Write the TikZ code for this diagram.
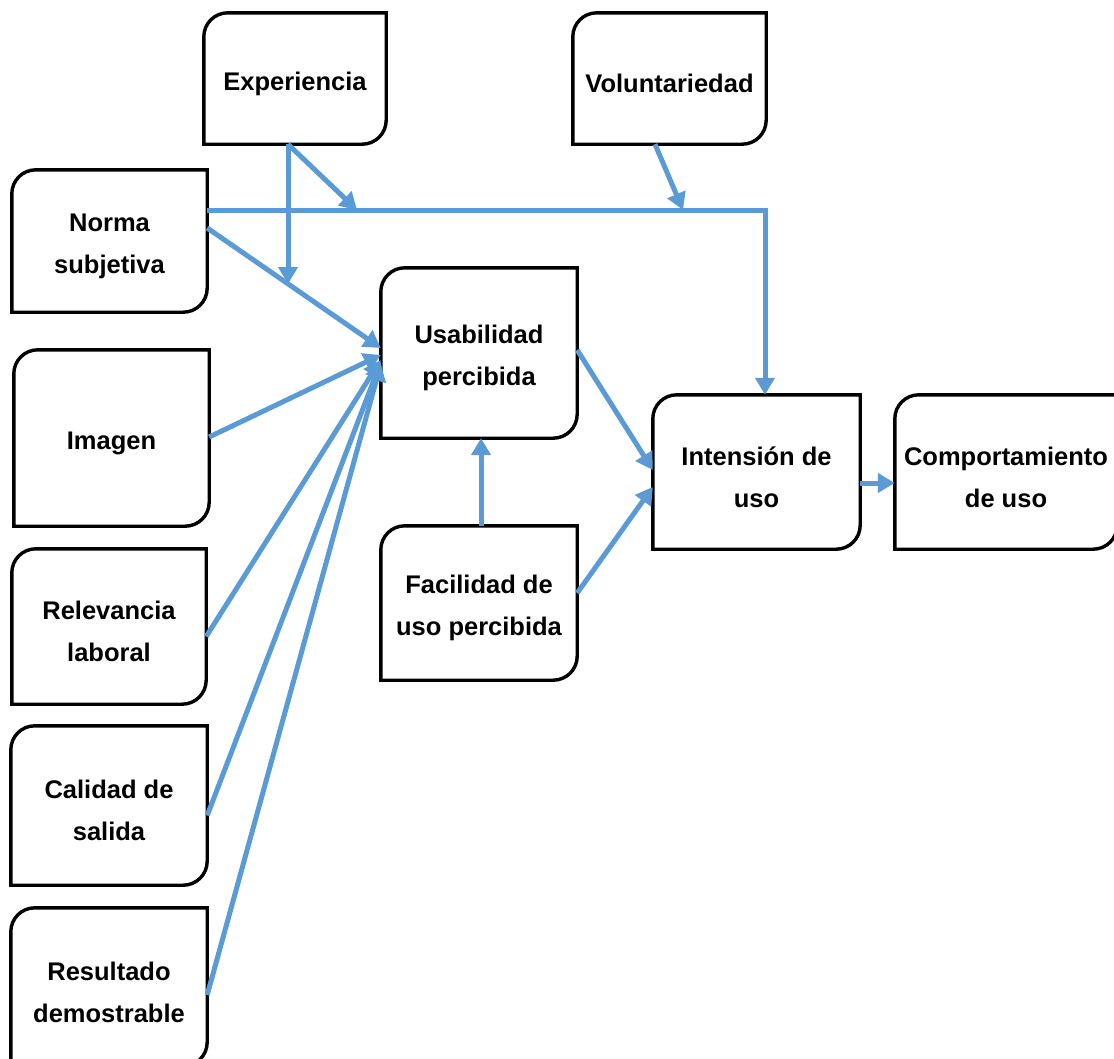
\documentclass[tikz,border=0pt]{standalone}
\usepackage{fontspec}
\setmainfont{Liberation Sans}
\usetikzlibrary{arrows.meta}
\definecolor{lineblue}{HTML}{5B9BD5}
\tikzset{
  box/.style={inner sep=0pt, align=center, font=\bfseries\fontsize{25.5}{42}\selectfont},
  conn/.style={draw=lineblue, line width=5pt, -{Triangle[length=17pt,width=19pt]}},
  outline/.style={draw=black, line width=3.4pt},
}
% outline is drawn 5pt above the node box so that the text sits slightly low, as in the original
\newcommand{\rbox}[1]{%
  \draw[outline] ([yshift=5pt]#1.south west) -- ([yshift=-19pt]#1.north west)
    arc[start angle=180,end angle=90,radius=24pt] -- ([yshift=5pt]#1.north east)
    -- ([yshift=29pt]#1.south east)
    arc[start angle=0,end angle=-90,radius=24pt] -- cycle;}
\begin{document}
\begin{tikzpicture}[x=1pt,y=1pt]
\clip (0,0) rectangle (1114,-1058);
\fill[white] (0,0) rectangle (1114,-1058);
% nodes (centre shifted 5pt down, size)
\node[box, minimum width=182pt, minimum height=131pt] (exp) at (295,-83.5) {Experiencia};
\node[box, minimum width=193pt, minimum height=131pt] (vol) at (669.5,-83.5) {Voluntariedad};
\node[box, minimum width=195pt, minimum height=142pt] (norma) at (109.5,-246) {Norma\\subjetiva};
\node[box, minimum width=195pt, minimum height=176pt] (img) at (111.5,-443) {Imagen};
\node[box, minimum width=194pt, minimum height=155pt] (rel) at (109,-631.5) {Relevancia\\laboral};
\node[box, minimum width=196pt, minimum height=159pt] (cal) at (109,-810.5) {Calidad de\\salida};
\node[box, minimum width=196pt, minimum height=158pt] (res) at (109,-992) {Resultado\\demostrable};
\node[box, minimum width=196pt, minimum height=170pt] (usab) at (479,-358) {Usabilidad\\percibida};
\node[box, minimum width=196pt, minimum height=154pt] (fac) at (479,-608) {Facilidad de\\uso percibida};
\node[box, minimum width=207pt, minimum height=154pt] (int) at (756.5,-477) {Intensión de\\uso};
\node[box, minimum width=222pt, minimum height=154pt] (comp) at (1006,-477) {Comportamiento\\de uso};
\foreach \n in {exp,vol,norma,img,rel,cal,res,usab,fac,int,comp} {\rbox{\n}}
% free ends
\coordinate (m1) at (357,-210);
\coordinate (m2) at (683,-210);
\coordinate (m3) at (288,-284);
% connectors
\draw[conn] ([yshift=36pt]norma.east) -| ([xshift=8.5pt,yshift=5pt]int.north);
\draw[conn] ([xshift=-7pt,yshift=5pt]exp.south) -- (m1);
\draw[conn] ([xshift=-7pt,yshift=5pt]exp.south) -- (m3);
\draw[conn] ([xshift=-14.5pt,yshift=5pt]vol.south) -- (m2);
\draw[conn] ([yshift=18pt]norma.east) -- ([yshift=10pt]usab.west);
\draw[conn] ([yshift=6pt]img.east) -- ([yshift=3pt]usab.west);
\draw[conn] ([yshift=-5pt]rel.east) -- ([yshift=-2pt]usab.west);
\draw[conn] ([yshift=-5pt]cal.east) -- ([yshift=-4pt]usab.west);
\draw[conn] ([yshift=-3pt]res.east) -- ([yshift=-6pt]usab.west);
\draw[conn] ([xshift=2pt,yshift=5pt]fac.north) -- ([xshift=2pt,yshift=5pt]usab.south);
\draw[conn] ([yshift=8pt]usab.east) -- ([yshift=7pt]int.west);
\draw[conn] ([yshift=15pt]fac.east) -- ([yshift=-10pt]int.west);
\draw[conn] ([yshift=-6pt]int.east) -- ([yshift=-6pt]comp.west);
\end{tikzpicture}
\end{document}
